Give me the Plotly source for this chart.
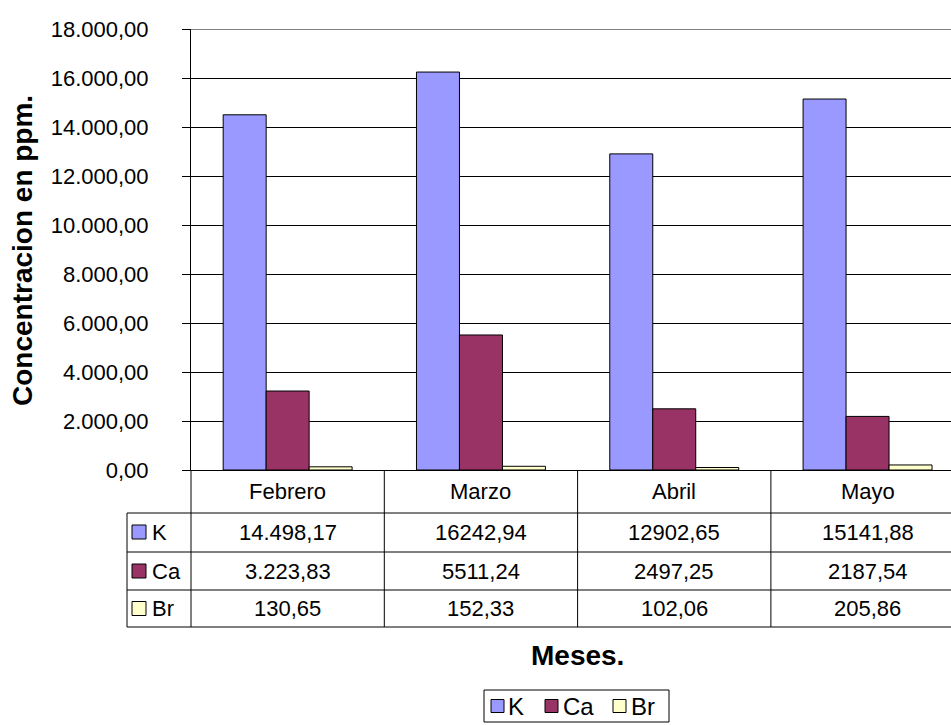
import plotly.graph_objects as go

# ---------------- data ----------------
months = ["Febrero", "Marzo", "Abril", "Mayo"]
series_names = ["K", "Ca", "Br"]
k_vals = [14498.17, 16242.94, 12902.65, 15141.88]
ca_vals = [3223.83, 5511.24, 2497.25, 2187.54]
br_vals = [130.65, 152.33, 102.06, 205.86]
k_labels = ["14.498,17", "16242,94", "12902,65", "15141,88"]
ca_labels = ["3.223,83", "5511,24", "2497,25", "2187,54"]
br_labels = ["130,65", "152,33", "102,06", "205,86"]
y_tick_vals = [0, 2000, 4000, 6000, 8000, 10000, 12000, 14000, 16000, 18000]
series_colors = ["#9999FF", "#993366", "#FFFFCC"]

all_vals = [k_vals, ca_vals, br_vals]
all_labels = [k_labels, ca_labels, br_labels]

# ---------------- layout geometry (pixels) ----------------
W, H = 951, 725
L, T, BOT = 191, 29, 470          # plot area left / top / bottom
PW = W - L                          # visible plot width
PH = BOT - T
CW = 193.3                          # category width in px
X0, X1 = -0.5, -0.5 + PW / CW

FONT = "Liberation Sans, Arial, sans-serif"


def py(p):
    return (BOT - p) / PH


def px(p):
    return (p - L) / PW


fig = go.Figure()
for name, vals, col in zip(series_names, all_vals, series_colors):
    fig.add_trace(go.Bar(
        name=name, x=months, y=vals,
        marker=dict(color=col, line=dict(color="#000000", width=1)),
        showlegend=False,
    ))

shapes = []
LINE = dict(color="#000000", width=1)

# plot-area top border (gray)
shapes.append(dict(type="line", xref="paper", yref="y", x0=0, x1=1, y0=18000, y1=18000,
                   line=dict(color="#808080", width=2), layer="above"))

# data table
row_lines = [513, 552, 590, 627]
for p in row_lines:
    shapes.append(dict(type="line", xref="paper", yref="paper", x0=px(127), x1=1,
                       y0=py(p), y1=py(p), line=LINE))
# vertical separators
shapes.append(dict(type="line", xref="paper", yref="paper", x0=0, x1=0,
                   y0=py(BOT), y1=py(627), line=LINE))
for b in [0.5, 1.5, 2.5]:
    shapes.append(dict(type="line", xref="x", yref="paper", x0=b, x1=b,
                       y0=py(BOT), y1=py(627), line=LINE))
shapes.append(dict(type="line", xref="paper", yref="paper", x0=px(127), x1=px(127),
                   y0=py(513), y1=py(627), line=LINE))

annotations = []
row_centers = [532, 571, 608.5]
header_center = 491.5
for m in months:
    annotations.append(dict(text=m, xref="x", yref="paper", x=m, y=py(header_center),
                            showarrow=False, xanchor="center", yanchor="middle",
                            font=dict(family=FONT, size=22, color="#000")))
for name, labels, col, rc in zip(series_names, all_labels, series_colors, row_centers):
    for m, lab in zip(months, labels):
        annotations.append(dict(text=lab, xref="x", yref="paper", x=m, y=py(rc),
                                showarrow=False, xanchor="center", yanchor="middle",
                                font=dict(family=FONT, size=22, color="#000")))
    # legend key in table
    shapes.append(dict(type="rect", xref="paper", yref="paper",
                       x0=px(132), x1=px(146), y0=py(rc - 7), y1=py(rc + 7),
                       fillcolor=col, line=dict(color="#000", width=1)))
    annotations.append(dict(text=name, xref="paper", yref="paper", x=px(150), y=py(rc),
                            showarrow=False, xanchor="left", yanchor="middle",
                            font=dict(family=FONT, size=22, color="#000")))

# axis titles
annotations.append(dict(text="<b>Concentracion en ppm.</b>", xref="paper", yref="paper",
                        x=px(22), y=py(251), textangle=-90, showarrow=False,
                        xanchor="center", yanchor="middle",
                        font=dict(family=FONT, size=28, color="#000")))
annotations.append(dict(text="<b>Meses.</b>", xref="x", yref="paper",
                        x=1.5, y=py(655), showarrow=False,
                        xanchor="center", yanchor="middle",
                        font=dict(family=FONT, size=28, color="#000")))

# bottom legend
shapes.append(dict(type="rect", xref="paper", yref="paper", x0=px(484), x1=px(669),
                   y0=py(690), y1=py(722), line=dict(color="#000", width=1),
                   fillcolor="rgba(0,0,0,0)"))
leg_sq = [491, 545, 613]
leg_tx = [506, 561, 629]
for name, col, sx, tx in zip(series_names, series_colors, leg_sq, leg_tx):
    shapes.append(dict(type="rect", xref="paper", yref="paper", x0=px(sx), x1=px(sx + 13),
                       y0=py(699.5), y1=py(712.5), fillcolor=col,
                       line=dict(color="#000", width=1)))
    annotations.append(dict(text=name, xref="paper", yref="paper", x=px(tx), y=py(706),
                            showarrow=False, xanchor="left", yanchor="middle",
                            font=dict(family=FONT, size=24, color="#000")))

fig.update_layout(
    width=W, height=H,
    margin=dict(l=L, r=0, t=T, b=H - BOT, pad=0),
    paper_bgcolor="white", plot_bgcolor="white",
    barmode="group", bargap=0.333, bargroupgap=0,
    separators=",.",
    font=dict(family=FONT, size=22, color="#000"),
    shapes=shapes, annotations=annotations,
    showlegend=False,
)
fig.update_xaxes(range=[X0, X1], showticklabels=False, ticks="", showgrid=False,
                 zeroline=False, showline=True, linecolor="#000", linewidth=1,
                 fixedrange=True)
fig.update_yaxes(range=[0, 18000], tickvals=y_tick_vals, tickformat=",.2f",
                 ticks="outside", ticklen=8, tickcolor="#000", tickwidth=1,
                 showgrid=True, gridcolor="#000", gridwidth=1, zeroline=False,
                 showline=True, linecolor="#000", linewidth=1,
                 ticklabelstandoff=29,
                 tickfont=dict(family=FONT, size=22, color="#000"), fixedrange=True)

fig.write_html("out.html")
